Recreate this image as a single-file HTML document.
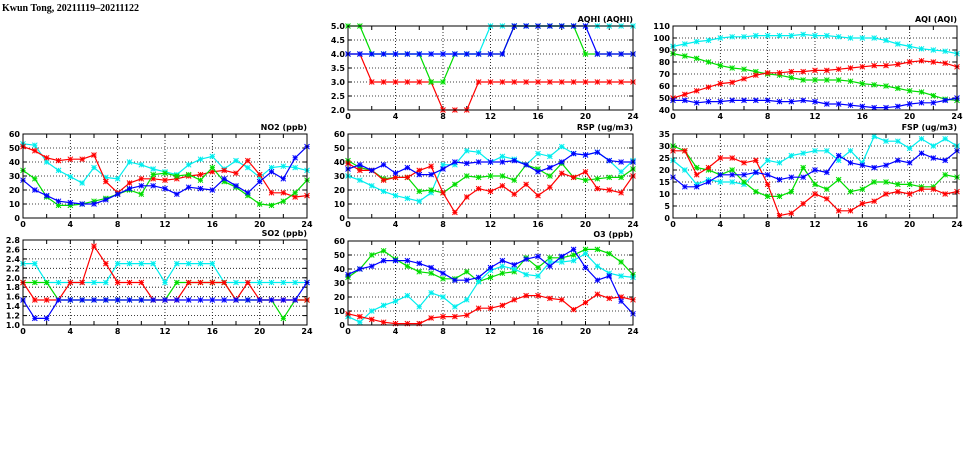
<!DOCTYPE html><html><head><meta charset="utf-8"><style>
body{margin:0;background:#fff;width:975px;height:447px;overflow:hidden}
svg text{font-family:"DejaVu Sans","Liberation Sans",sans-serif;font-size:8px;font-weight:bold;fill:#000}
</style></head><body>
<svg id="s" width="975" height="447" xmlns="http://www.w3.org/2000/svg">
<text x="2" y="11" style="font-family:'Liberation Serif',serif;font-size:10px">Kwun Tong, 20211119–20211122</text>
</svg>
<script>
const S=document.getElementById('s');let h='';
const C={r:'#ff0000',g:'#00dd00',c:'#00eeee',b:'#0000ff'};
function panel(x0,y0,w,hh,title,ymin,ymax,step,dec,series){
  const X=t=>x0+t*w/24,Y=v=>y0+hh-(v-ymin)/(ymax-ymin)*hh;
  h+=`<text x="${x0+w}" y="${y0-4}" text-anchor="end">${title}</text>`;
  for(let v=ymin;v<=ymax+1e-9;v+=step){const y=Y(v).toFixed(1);
    if(v>ymin+1e-9&&v<ymax-1e-9)h+=`<line x1="${x0}" x2="${x0+w}" y1="${y}" y2="${y}" stroke="#000" stroke-width="0.8" stroke-dasharray="1,2"/>`;
    h+=`<line x1="${x0}" x2="${x0+4}" y1="${y}" y2="${y}" stroke="#000"/><line x1="${x0+w-4}" x2="${x0+w}" y1="${y}" y2="${y}" stroke="#000"/>`;
    h+=`<text x="${x0-3}" y="${+y+3}" text-anchor="end">${v.toFixed(dec)}</text>`;}
  for(let t=0;t<=24;t+=2){const x=X(t);
    if(t%4==0&&t>0&&t<24)h+=`<line x1="${x}" x2="${x}" y1="${y0}" y2="${y0+hh}" stroke="#000" stroke-width="0.8" stroke-dasharray="1,2"/>`;
    h+=`<line x1="${x}" x2="${x}" y1="${y0}" y2="${y0+4}" stroke="#000"/><line x1="${x}" x2="${x}" y1="${y0+hh-4}" y2="${y0+hh}" stroke="#000"/>`;
    if(t%4==0)h+=`<text x="${x}" y="${y0+hh+9}" text-anchor="middle">${t}</text>`;}
  for(const [k,d] of series){const col=C[k];
    h+=`<polyline fill="none" stroke="${col}" stroke-width="1.2" points="${d.map((v,i)=>X(i).toFixed(1)+','+Y(v).toFixed(1)).join(' ')}"/>`;
    d.forEach((v,i)=>{const x=X(i),y=Y(v);h+=`<path d="M${x-2.5},${y-2.5}L${x+2.5},${y+2.5}M${x-2.5},${y+2.5}L${x+2.5},${y-2.5}M${x-2.5},${y}H${x+2.5}M${x},${y-2.5}V${y+2.5}" stroke="${col}" stroke-width="1"/>`;});}
  h+=`<rect x="${x0}" y="${y0}" width="${w}" height="${hh}" fill="none" stroke="#000" stroke-width="1"/>`;
}
panel(348,26,285,84,'AQHI (AQHI)',2,5,0.5,1,[
['r',[4,4,3,3,3,3,3,3,2,2,2,3,3,3,3,3,3,3,3,3,3,3,3,3,3]],
['g',[5,5,4,4,4,4,4,3,3,4,4,4,4,4,5,5,5,5,5,5,4,4,4,4,4]],
['c',[4,4,4,4,4,4,4,4,4,4,4,4,5,5,5,5,5,5,5,5,5,5,5,5,5]],
['b',[4,4,4,4,4,4,4,4,4,4,4,4,4,4,5,5,5,5,5,5,5,4,4,4,4]]]);
panel(673,26,284,84,'AQI (AQI)',40,110,10,0,[
['c',[93,95,97,98,100,101,101,102,102,102,102,103,102,102,101,100,100,100,98,95,93,91,90,89,87]],
['g',[87,85,83,80,77,75,74,72,70,69,67,65,65,65,65,64,62,61,60,58,56,55,52,49,48]],
['r',[50,53,56,59,62,63,66,69,71,71,72,72,73,73,74,75,76,77,77,78,80,81,80,79,76]],
['b',[48,48,46,47,47,48,48,48,48,47,47,48,47,45,45,44,43,42,42,43,45,46,46,48,50]]]);
panel(23,134,284,84,'NO2 (ppb)',0,60,10,0,[
['c',[53,52,40,34,29.5,25,36,29,28,40,38,35,33,31,38,42,44,35,41,36,29,36,37,36,34]],
['r',[51,48,43,41,42,42,45,26,18,25,28,28,27,28,30,31,33,34,32,41,31,18,18,15,16]],
['g',[34,28,15,9,9,10,12,14,17,20,17,31,32,30,31,27,36,26,22,16,10,9,12,18,27]],
['b',[27,20,16,12,11,10,10,13,17,21,23,23,21,17,22,21,20,28,23,18,26,33,28,43,51]]]);
panel(348,134,285,84,'RSP (ug/m3)',0,60,10,0,[
['c',[30,27,23,19,16,14,12,18,38,38,48,47,40,44,42,38,46,44,51,46,45,47,41,33,41]],
['g',[41,36,34,28,29,29,19,20,18,24,30,29,30,30,27,38,35,30,39,29,27,28,29,29,35]],
['r',[39,34,34,27,29,29,34,37,18,4,15,21,19,23,17,24,16,22,32,29,33,21,20,18,30]],
['b',[35,38,34,38,32,36,31,31,35,40,39,40,40,40,41,38,33,36,40,46,45,47,41,40,40]]]);
panel(673,134,284,84,'FSP (ug/m3)',0,35,5,0,[
['c',[24,20,14,16,15,15,14,19,24,23,26,27,28,28,24,28,23,34,32,32,29,33,30,33,30]],
['g',[30,28,21,20,18,20,15,11,9,9,11,21,14,12,16,11,12,15,15,14,14,13,13,18,17]],
['r',[28,28,18,21,25,25,23,24,14,1,2,6,10,8,3,3,6,7,10,11,10,12,12,10,11]],
['b',[17,13,13,15,18,18,18,19,18,16,17,17,20,19,26,23,22,21,22,24,23,27,25,24,28]]]);
panel(23,240,284,85,'SO2 (ppb)',1.0,2.8,0.2,1,[
['c',[2.3,2.3,1.9,1.9,1.9,1.9,1.9,1.9,2.3,2.3,2.3,2.3,1.9,2.3,2.3,2.3,2.3,1.9,1.9,1.9,1.9,1.9,1.9,1.9,1.9]],
['g',[1.9,1.9,1.9,1.53,1.53,1.53,1.53,1.53,1.53,1.53,1.53,1.53,1.53,1.9,1.9,1.9,1.9,1.9,1.53,1.53,1.53,1.53,1.14,1.53,1.53]],
['r',[1.9,1.53,1.53,1.53,1.9,1.9,2.67,2.3,1.9,1.9,1.9,1.53,1.53,1.53,1.9,1.9,1.9,1.9,1.53,1.9,1.53,1.53,1.53,1.53,1.53]],
['b',[1.53,1.14,1.14,1.53,1.53,1.53,1.53,1.53,1.53,1.53,1.53,1.53,1.53,1.53,1.53,1.53,1.53,1.53,1.53,1.53,1.53,1.53,1.53,1.53,1.9]]]);
panel(348,241,285,84,'O3 (ppb)',0,60,10,0,[
['g',[34,40,50,53,47,42,38,37,33,33,38,31,34,37,38,48,41,48,48,50,54,54,51,45,36]],
['c',[6,2,10,14,17,21,13,23,20,13,18,31,39,42,40,36,35,45,45,46,51,42,37,35,34]],
['r',[8,6,4,2,1,1,1,5,6,6,7,12,12,14,18,21,21,19,18,11,16,22,19,20,18]],
['b',[36,40,42,46,46,46,44,41,37,32,32,34,41,46,43,47,49,42,49,54,41,32,35,17,8]]]);
S.insertAdjacentHTML('beforeend',h);
</script></body></html>
